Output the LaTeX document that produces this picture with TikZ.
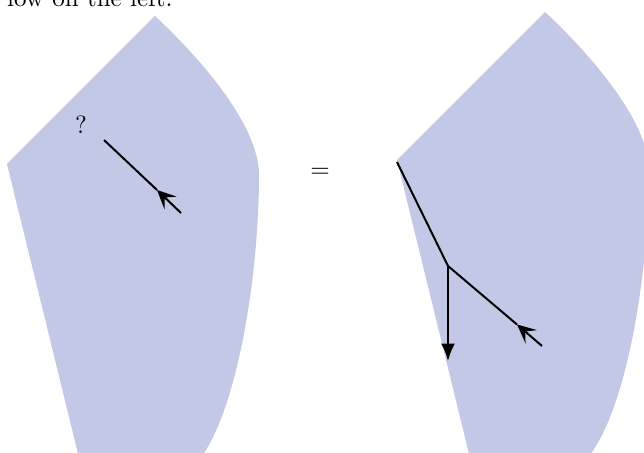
\documentclass[tikz,border=0pt]{standalone}
\usepackage{amsmath, amssymb}
\usepackage{xcolor}
\usepackage{tikz}
\usetikzlibrary{arrows.meta}

\definecolor{blobblue}{RGB}{196,200,231}

\tikzset{
    blob/.pic={
        \fill[blobblue] (155,16) -- (7,164) -- (82,470) -- (190,470)
            .. controls (235,430) and (259,280) .. (259,175)
            .. controls (259,125) and (200,58) .. (155,16) -- cycle;
    },
    leg/.style={line width=0.8pt},
    inarrow/.style={leg, -{Stealth[length=7.5pt, width=7pt, inset=3.2pt]}},
    outarrow/.style={leg, -{Latex[length=7pt, width=5.6pt]}}
}

\begin{document}
\begin{tikzpicture}[x=0.4pt, y=-0.4pt]
                \useasboundingbox (0,0) rectangle (644,452);
                \clip (0,0) rectangle (644,452);

                % 1. Text cut off at the top
                \node[anchor=base east, inner sep=0pt] (caption) at (173,7) {low on the left.};

                % 2. The two blobs
                \pic at (0,0) {blob};
                \pic at (390,-4) {blob};

                % 3. Left picture
                \node (ask) at (81,125) {?};
                \coordinate (lstart) at (104,140);
                \coordinate (ltip) at (157,190);
                \coordinate (lend) at (181,213);
                \draw[inarrow] (lend) -- (ltip);
                \draw[leg] (ltip) -- (lstart);

                % 4. Equal sign
                \node (eq) at (320,173) {$=$};

                % 5. Right picture
                \coordinate (corner) at (397,162);
                \coordinate (vtx) at (448,266);
                \coordinate (down) at (448,361);
                \coordinate (rtip) at (517,324.5);
                \coordinate (rend) at (542,346);
                \draw[leg] (corner) -- (vtx);
                \draw[outarrow] (vtx) -- (down);
                \draw[inarrow] (rend) -- (rtip);
                \draw[leg] (rtip) -- (vtx);
\end{tikzpicture}
\end{document}
